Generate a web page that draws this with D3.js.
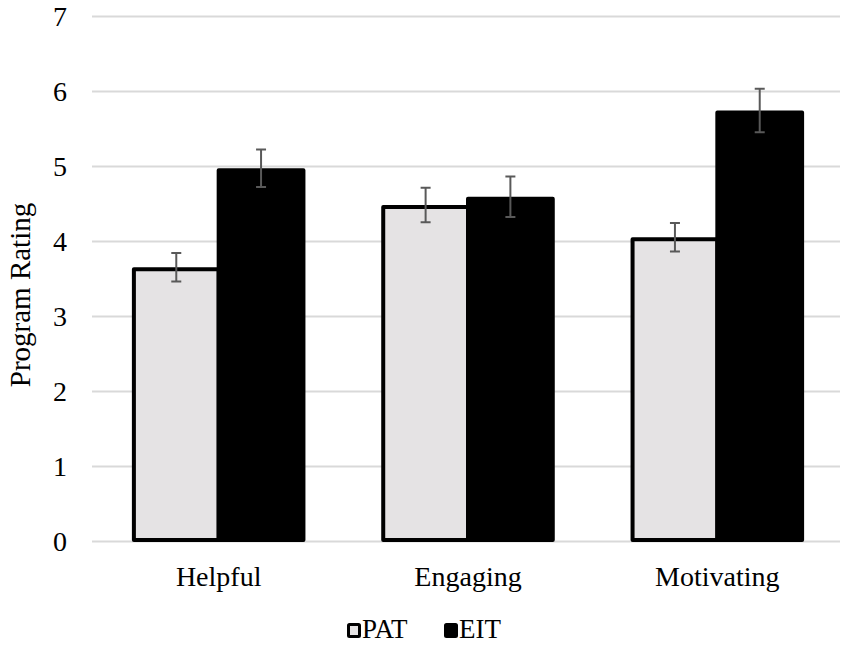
<!DOCTYPE html>
<html>
<head>
<meta charset="utf-8">
<script src="https://cdn.jsdelivr.net/npm/d3@7"></script>
<style>
  body { margin: 0; background: #fff; }
  .grid line { stroke: #d9d9d9; stroke-width: 2; }
  .grid .domain { display: none; }
</style>
</head>
<body>
<div class="container"></div>
<script>
const categories = ["Helpful", "Engaging", "Motivating"];
const groups = ["PAT", "EIT"];
const patMeans = [3.65, 4.48, 4.05];
const eitMeans = [4.97, 4.59, 5.74];
const patErrors = [0.19, 0.23, 0.19];
const eitErrors = [0.25, 0.27, 0.29];
const yTicks = [0, 1, 2, 3, 4, 5, 6, 7];

const width = 851, height = 648;
const margin = {left: 92, right: 11, top: 16, bottom: 107};
const plotWidth = width - margin.left - margin.right;
const plotHeight = height - margin.top - margin.bottom;
const serif = "'Liberation Serif', 'Times New Roman', 'DejaVu Serif', serif";

const fills = {PAT: "#e5e3e4", EIT: "#000"};

let rows = [];
categories.forEach((c, i) => {
  rows.push({cat: c, group: "PAT", value: patMeans[i], err: patErrors[i]});
  rows.push({cat: c, group: "EIT", value: eitMeans[i], err: eitErrors[i]});
});

let svg = d3.select(".container")
            .append("svg")
            .attr("width", width)
            .attr("height", height)
            .style("font-family", serif);

let plot = svg.append("g")
              .attr("transform", `translate(${margin.left},${margin.top})`);

let xScale = d3.scaleBand()
               .domain(categories)
               .range([0, plotWidth])
               .paddingInner(0.32)
               .paddingOuter(0.16);

let xInner = d3.scaleBand()
               .domain(groups)
               .range([0, xScale.bandwidth()]);

let yScale = d3.scaleLinear()
               .domain([0, 7])
               .range([plotHeight, 0]);

// gridlines
plot.append("g")
    .attr("class", "grid")
    .call(d3.axisLeft(yScale)
            .tickValues(yTicks)
            .tickSize(-plotWidth)
            .tickFormat(""));

// y tick labels
plot.append("g")
    .selectAll("text")
    .data(yTicks)
    .join("text")
    .attr("x", -32)
    .attr("y", d => yScale(d))
    .attr("dy", "0.36em")
    .attr("text-anchor", "middle")
    .attr("font-size", 28)
    .text(d => d);

// bars (EIT drawn last so it overlaps PAT's right edge)
plot.append("g")
    .selectAll("rect")
    .data(rows)
    .join("rect")
    .attr("x", d => xScale(d.cat) + xInner(d.group) + 2)
    .attr("y", d => yScale(d.value) + 2)
    .attr("width", xInner.bandwidth())
    .attr("height", d => yScale(0) - yScale(d.value) - 3)
    .attr("fill", d => fills[d.group])
    .attr("stroke", "#000")
    .attr("stroke-width", 4)
    .attr("stroke-linejoin", "round");

// error bars
let errG = plot.append("g")
               .attr("stroke", "#595959")
               .attr("stroke-width", 2);

rows.forEach(d => {
  let cx = xScale(d.cat) + xInner(d.group) + xInner.bandwidth() / 2 + 2;
  let y1 = yScale(d.value + d.err);
  let y2 = yScale(d.value - d.err);
  errG.append("line").attr("x1", cx).attr("x2", cx).attr("y1", y1).attr("y2", y2);
  errG.append("line").attr("x1", cx - 5).attr("x2", cx + 5).attr("y1", y1).attr("y2", y1);
  errG.append("line").attr("x1", cx - 5).attr("x2", cx + 5).attr("y1", y2).attr("y2", y2);
});

// x labels
plot.append("g")
    .selectAll("text")
    .data(categories)
    .join("text")
    .attr("x", d => xScale(d) + xScale.bandwidth() / 2 + 2)
    .attr("y", plotHeight + 45)
    .attr("text-anchor", "middle")
    .attr("font-size", 28)
    .text(d => d);

// y title
svg.append("text")
   .attr("transform", "translate(30,295) rotate(-90)")
   .attr("text-anchor", "middle")
   .attr("font-size", 29)
   .text("Program Rating");

// legend
let legend = svg.append("g")
                .attr("transform", "translate(347,638)");

let legendItems = [{name: "PAT", x: 0}, {name: "EIT", x: 97}];
legendItems.forEach(item => {
  legend.append("rect")
        .attr("x", item.x + 1.5)
        .attr("y", -13.5)
        .attr("width", 11)
        .attr("height", 12)
        .attr("fill", fills[item.name])
        .attr("stroke", "#000")
        .attr("stroke-width", 3)
        .attr("rx", 1);
  legend.append("text")
        .attr("x", item.x + 15)
        .attr("y", 0)
        .attr("font-size", 27)
        .text(item.name);
});
</script>
</body>
</html>
